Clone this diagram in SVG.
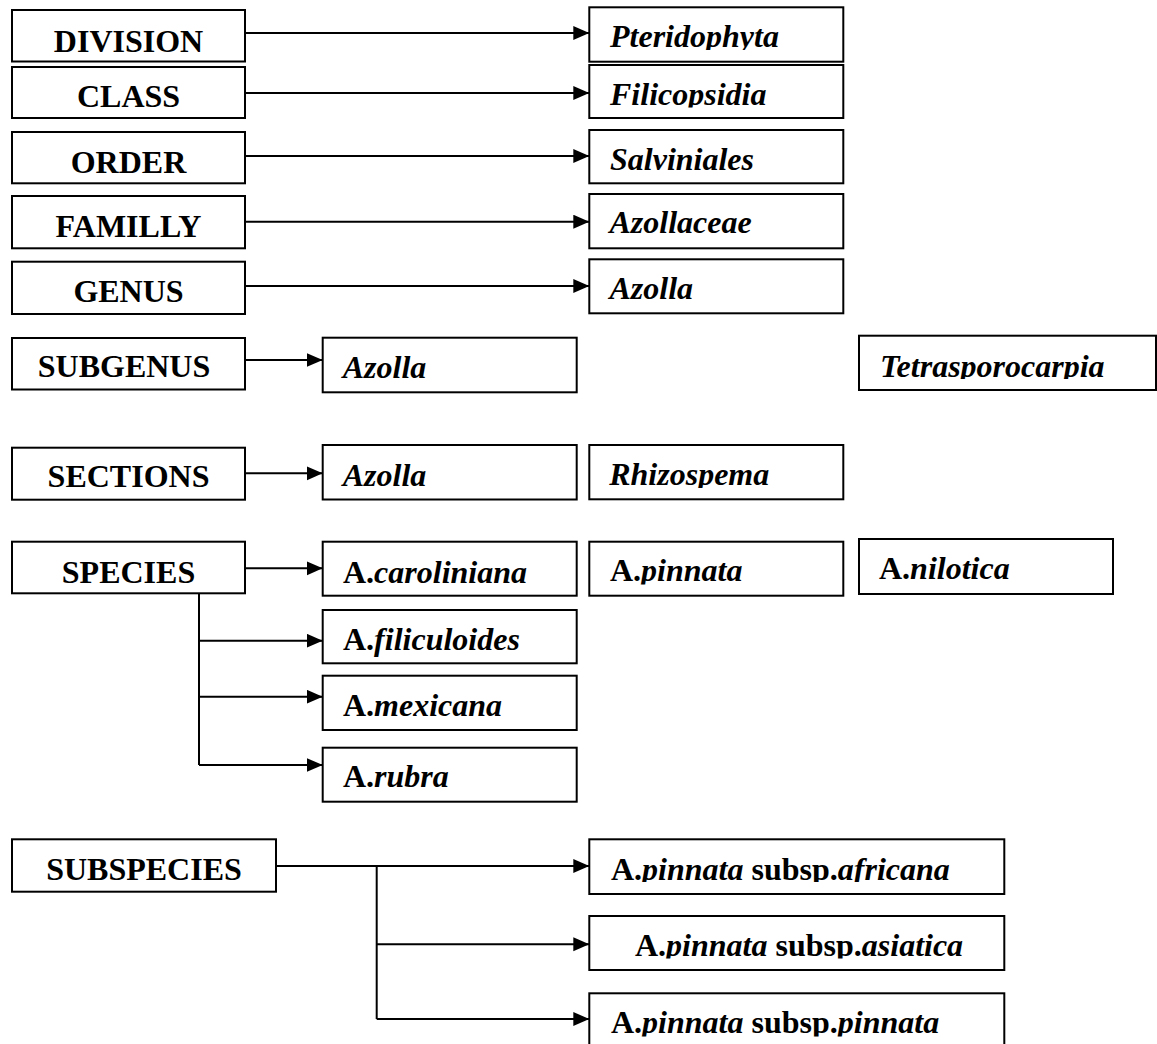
<svg xmlns="http://www.w3.org/2000/svg" width="1157" height="1044" viewBox="0 0 1157 1044">
<style>
.box{fill:#fff;stroke:#000;stroke-width:2}
.t{font-family:"Liberation Serif","Times New Roman",serif;font-size:32px;font-weight:bold;fill:#000}
.c{text-anchor:middle}
.i{font-style:italic}
.ln{fill:none;stroke:#000;stroke-width:2}
</style>
<defs>
<marker id="ah" markerUnits="userSpaceOnUse" markerWidth="17" markerHeight="15" refX="16" refY="7" orient="auto">
<path d="M0,0 L16,7 L0,14 z" fill="#000"/>
</marker>
<clipPath id="cp1"><rect x="589" y="7" width="255" height="43"/></clipPath>
<clipPath id="cp2"><rect x="589" y="65" width="255" height="42.5"/></clipPath>
<clipPath id="cp3"><rect x="859" y="335" width="298" height="44"/></clipPath>
<clipPath id="cp4"><rect x="589" y="445" width="255" height="43"/></clipPath>
<clipPath id="cp5"><rect x="589" y="541" width="255" height="43.5"/></clipPath>
<clipPath id="cp6"><rect x="589" y="839" width="416" height="43"/></clipPath>
<clipPath id="cp7"><rect x="589" y="916" width="416" height="42.5"/></clipPath>
<clipPath id="cp8"><rect x="589" y="993" width="416" height="43.5"/></clipPath>
</defs>
<rect width="1157" height="1044" fill="#fff"/>

<g id="connectors">
<line class="ln" x1="245" y1="33" x2="589.3" y2="33" marker-end="url(#ah)"/>
<line class="ln" x1="245" y1="93" x2="589.3" y2="93" marker-end="url(#ah)"/>
<line class="ln" x1="245" y1="156" x2="589.3" y2="156" marker-end="url(#ah)"/>
<line class="ln" x1="245" y1="221.7" x2="589.3" y2="221.7" marker-end="url(#ah)"/>
<line class="ln" x1="245" y1="286" x2="589.3" y2="286" marker-end="url(#ah)"/>
<line class="ln" x1="245" y1="360" x2="322.7" y2="360" marker-end="url(#ah)"/>
<line class="ln" x1="245" y1="473.3" x2="322.7" y2="473.3" marker-end="url(#ah)"/>
<line class="ln" x1="245" y1="568.3" x2="322.7" y2="568.3" marker-end="url(#ah)"/>
<line class="ln" x1="199" y1="593.3" x2="199" y2="765"/>
<polyline class="ln" points="199,640.7 322.7,640.7" marker-end="url(#ah)"/>
<polyline class="ln" points="199,696.7 322.7,696.7" marker-end="url(#ah)"/>
<polyline class="ln" points="199,765 322.7,765" marker-end="url(#ah)"/>
<line class="ln" x1="276" y1="866" x2="589.3" y2="866" marker-end="url(#ah)"/>
<line class="ln" x1="376.7" y1="866" x2="376.7" y2="1019"/>
<polyline class="ln" points="376.7,944.3 589.3,944.3" marker-end="url(#ah)"/>
<polyline class="ln" points="376.7,1019 589.3,1019" marker-end="url(#ah)"/>
</g>

<g id="n-division"><rect class="box" x="12" y="10" width="233" height="51.5"/><text class="t c" x="128.5" y="51.7">DIVISION</text></g>
<g id="n-class"><rect class="box" x="12" y="67" width="233" height="51"/><text class="t c" x="128.5" y="107.3">CLASS</text></g>
<g id="n-order"><rect class="box" x="12" y="132" width="233" height="51.3"/><text class="t c" x="128.5" y="173.3">ORDER</text></g>
<g id="n-familly"><rect class="box" x="12" y="196" width="233" height="52.3"/><text class="t c" x="128.5" y="236.7">FAMILLY</text></g>
<g id="n-genus"><rect class="box" x="12" y="261.7" width="233" height="52.3"/><text class="t c" x="128.5" y="301.7">GENUS</text></g>
<g id="n-subgenus"><rect class="box" x="12" y="338" width="233" height="51.5"/><text class="t c" x="124" y="377">SUBGENUS</text></g>
<g id="n-sections"><rect class="box" x="12" y="447.7" width="233" height="52"/><text class="t c" x="128.5" y="486.5">SECTIONS</text></g>
<g id="n-species"><rect class="box" x="12" y="541.7" width="233" height="51.6"/><text class="t c" x="128.5" y="582.7">SPECIES</text></g>
<g id="n-subspecies"><rect class="box" x="12" y="839.3" width="264" height="52.4"/><text class="t c" x="144" y="880">SUBSPECIES</text></g>

<g id="n-pteridophyta"><rect class="box" x="589.3" y="7.3" width="254" height="54.4"/><text class="t i" x="610" y="46.7" clip-path="url(#cp1)">Pteridophyta</text></g>
<g id="n-filicopsidia"><rect class="box" x="589.3" y="65" width="254" height="53"/><text class="t i" x="610" y="105" clip-path="url(#cp2)">Filicopsidia</text></g>
<g id="n-salviniales"><rect class="box" x="589.3" y="130" width="254" height="53.3"/><text class="t i" x="610" y="170">Salviniales</text></g>
<g id="n-azollaceae"><rect class="box" x="589.3" y="194" width="254" height="54.3"/><text class="t i" x="609.5" y="233.3">Azollaceae</text></g>
<g id="n-azolla-genus"><rect class="box" x="589.3" y="259.3" width="254" height="54"/><text class="t i" x="609.5" y="298.5">Azolla</text></g>

<g id="n-azolla-subgenus"><rect class="box" x="322.7" y="337.7" width="254" height="54.6"/><text class="t i" x="342.7" y="378.3">Azolla</text></g>
<g id="n-tetrasporocarpia"><rect class="box" x="859" y="335.7" width="297" height="54.3"/><text class="t i" x="880" y="376.7" clip-path="url(#cp3)">Tetrasporocarpia</text></g>

<g id="n-azolla-section"><rect class="box" x="322.7" y="445" width="254" height="54.5"/><text class="t i" x="342.7" y="486">Azolla</text></g>
<g id="n-rhizospema"><rect class="box" x="589.3" y="445" width="254" height="54.3"/><text class="t i" x="609.2" y="485" clip-path="url(#cp4)">Rhizospema</text></g>

<g id="n-caroliniana"><rect class="box" x="322.7" y="541.7" width="254" height="54"/><text class="t" x="343" y="582.7">A.<tspan class="i">caroliniana</tspan></text></g>
<g id="n-pinnata"><rect class="box" x="589.3" y="541.7" width="254" height="54"/><text class="t" x="610" y="581" clip-path="url(#cp5)">A.<tspan class="i">pinnata</tspan></text></g>
<g id="n-nilotica"><rect class="box" x="859" y="539" width="254" height="55"/><text class="t" x="879" y="579">A.<tspan class="i">nilotica</tspan></text></g>
<g id="n-filiculoides"><rect class="box" x="322.7" y="610" width="254" height="53.3"/><text class="t" x="343" y="650">A.<tspan class="i">filiculoides</tspan></text></g>
<g id="n-mexicana"><rect class="box" x="322.7" y="675.7" width="254" height="54.3"/><text class="t" x="343" y="716">A.<tspan class="i">mexicana</tspan></text></g>
<g id="n-rubra"><rect class="box" x="322.7" y="747.7" width="254" height="54"/><text class="t" x="343" y="787.3">A.<tspan class="i">rubra</tspan></text></g>

<g id="n-africana"><rect class="box" x="589.3" y="839.3" width="415" height="54.7"/><text class="t" x="611" y="880" clip-path="url(#cp6)">A.<tspan class="i">pinnata</tspan> subsp.<tspan class="i">africana</tspan></text></g>
<g id="n-asiatica"><rect class="box" x="589.3" y="916" width="415" height="54"/><text class="t" x="635" y="956" clip-path="url(#cp7)">A.<tspan class="i">pinnata</tspan> subsp.<tspan class="i">asiatica</tspan></text></g>
<g id="n-pinnata-pinnata"><rect class="box" x="589.3" y="993.3" width="415" height="60"/><text class="t" x="611" y="1033.3" clip-path="url(#cp8)">A.<tspan class="i">pinnata</tspan> subsp.<tspan class="i">pinnata</tspan></text></g>
</svg>
